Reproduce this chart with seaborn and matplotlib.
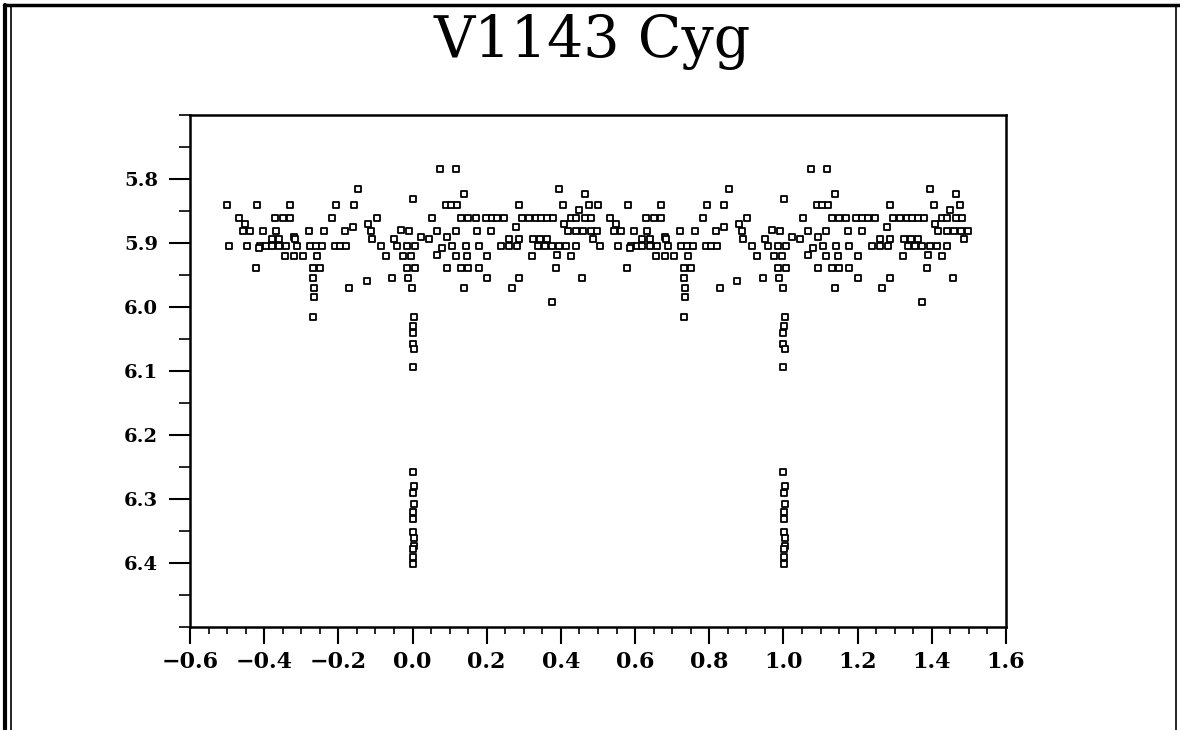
import numpy as np
import pandas as pd
import matplotlib
matplotlib.use('Agg')
import matplotlib.pyplot as plt
import matplotlib.ticker as ticker
from matplotlib.lines import Line2D
import seaborn as sns

# V1143 Cyg light curve, one cycle (phase -0.5 .. 0.5), plotted twice
phase = [
    0.074, 0.117,                                                   # 5.785
    -0.148, 0.396,                                                  # 5.816
    0.139, 0.465,                                                   # 5.823
    0.001,                                                          # 5.831
    -0.501, -0.418, -0.330, -0.207, -0.159, 0.090, 0.105, 0.120,
    0.287, 0.406, 0.477,                                            # 5.840
    0.448,                                                          # 5.849
    -0.467, -0.370, -0.350, -0.330, -0.217, -0.097, 0.053, 0.130, 0.150, 0.170,
    0.197, 0.213, 0.229, 0.247, 0.296, 0.314, 0.332, 0.346, 0.362, 0.378,
    0.427, 0.440, 0.465, 0.481,                                     # 5.861
    -0.451, -0.119, 0.409,                                          # 5.870
    -0.160, 0.278,                                                  # 5.875
    -0.032,                                                         # 5.880
    -0.456, -0.438, -0.404, -0.368, -0.278, -0.238, -0.182, -0.112, -0.010,
    0.065, 0.116, 0.175, 0.211, 0.418, 0.440, 0.460, 0.480, 0.498,  # 5.881
    -0.319, 0.022, 0.094,                                           # 5.891
    -0.380, -0.360, -0.316, -0.109, -0.050, 0.044,
    0.260, 0.287, 0.326, 0.343, 0.362, 0.486,                       # 5.893
    -0.494, -0.447, -0.410, -0.395, -0.380, -0.360, -0.340, -0.311, -0.276,
    -0.260, -0.244, -0.210, -0.195, -0.180, -0.086, -0.041, -0.014, 0.008,
    0.107, 0.143, 0.178, 0.238, 0.260, 0.283, 0.337, 0.356, 0.375, 0.394,
    0.413, 0.441,                                                   # 5.905
    -0.413, 0.080,                                                  # 5.908
    0.065, 0.389,                                                   # 5.918
    -0.343, -0.320, -0.295, -0.258, -0.071, -0.025, -0.005, 0.116, 0.146,
    0.200, 0.323, 0.427,                                            # 5.921
    -0.422, -0.267, -0.250, -0.014, 0.008, 0.094, 0.130, 0.150, 0.178,
    0.386,                                                          # 5.939
    -0.268, -0.054, -0.013, 0.200, 0.287, 0.456,                    # 5.954
    -0.124,                                                         # 5.960
    -0.265, -0.171, -0.001, 0.139, 0.267,                           # 5.971
    -0.265,                                                         # 5.984
    0.375,                                                          # 5.992
    -0.268, 0.004,                                                  # 6.015
    0.002, 0.000,                                                   # 6.03 / 6.04
    0.000, 0.003, 0.000,                                            # 6.06 - 6.09
    0.000, 0.004, 0.001, 0.005, 0.002, 0.002, 0.002, 0.003, 0.003, 0.002,
    0.002, 0.002,                                                   # primary minimum
]
mag = (
    [5.785] * 2 + [5.816] * 2 + [5.823] * 2 + [5.831] * 1 +
    [5.840] * 11 + [5.849] * 1 + [5.861] * 24 + [5.870] * 3 + [5.875] * 2 +
    [5.880] * 1 + [5.881] * 18 + [5.891] * 3 + [5.893] * 12 + [5.905] * 30 +
    [5.908] * 2 + [5.918] * 2 + [5.921] * 12 + [5.939] * 10 + [5.954] * 6 +
    [5.960] * 1 + [5.971] * 5 + [5.984] * 1 + [5.992] * 1 + [6.015] * 2 +
    [6.030, 6.040] + [6.058, 6.066, 6.093] +
    [6.258, 6.279, 6.291, 6.308, 6.320, 6.331, 6.351, 6.361, 6.373, 6.378,
     6.390, 6.402]
)

x_ticks = [-0.6, -0.4, -0.2, 0.0, 0.2, 0.4, 0.6, 0.8, 1.0, 1.2, 1.4, 1.6]
y_ticks = [5.8, 5.9, 6.0, 6.1, 6.2, 6.3, 6.4]

df = pd.DataFrame({'phase': phase, 'mag': mag})
df2 = df.copy()
df2['phase'] = df2['phase'] + 1
dfp = pd.concat([df, df2], ignore_index=True)

sns.set_theme(style='ticks')
plt.rcParams['font.family'] = ['DejaVu Serif', 'DejaVu Sans']

fig = plt.figure(figsize=(11.8, 7.3), dpi=100)
fig.patch.set_facecolor('white')
ax = fig.add_axes([0.161, 0.141, 0.6915, 0.7014])
sns.scatterplot(data=dfp, x='phase', y='mag', marker='s', s=22,
                color='white', edgecolor='black', linewidth=1.3, ax=ax, zorder=3)

ax.set_xlim(-0.6, 1.6)
ax.set_ylim(6.5, 5.7)
ax.set_xticks(x_ticks)
ax.set_yticks(y_ticks)
ax.set_xticklabels([f'{v:.1f}'.replace('-', '\u2212') for v in x_ticks],
                   fontsize=16, fontweight='bold')
ax.set_yticklabels([f'{v:.1f}' for v in y_ticks], fontsize=14, fontweight='bold')
ax.xaxis.set_minor_locator(ticker.MultipleLocator(0.05))
ax.yaxis.set_minor_locator(ticker.MultipleLocator(0.05))
ax.tick_params(axis='x', which='major', direction='out', length=12, width=1.5, pad=5, colors='black')
ax.tick_params(axis='x', which='minor', direction='out', length=5, width=1.2, colors='black')
ax.tick_params(axis='y', which='major', direction='out', length=15, width=1.5, pad=8, colors='black')
ax.tick_params(axis='y', which='minor', direction='out', length=8, width=1.2, colors='black')
for sp in ax.spines.values():
    sp.set_visible(True)
    sp.set_linewidth(1.8)
    sp.set_color('black')
ax.set_xlabel('')
ax.set_ylabel('')

fig.text(0.5017, 1 - 42 / 730, 'V1143 Cyg', ha='center', va='center',
         fontsize=41, family='DejaVu Serif', color='black')

# scanned page frame
fig.add_artist(Line2D([5 / 1180, 5 / 1180], [0, 1 - 5 / 730], transform=fig.transFigure, color='black', lw=3))
fig.add_artist(Line2D([11 / 1180, 11 / 1180], [0, 1 - 5 / 730], transform=fig.transFigure, color='black', lw=1.2))
fig.add_artist(Line2D([4 / 1180, 1], [1 - 5 / 730, 1 - 5 / 730], transform=fig.transFigure, color='black', lw=2.5))
fig.add_artist(Line2D([1176 / 1180, 1176 / 1180], [0, 1 - 5 / 730], transform=fig.transFigure, color='black', lw=1.2))

fig.savefig('out.png', dpi=100, facecolor='white')
